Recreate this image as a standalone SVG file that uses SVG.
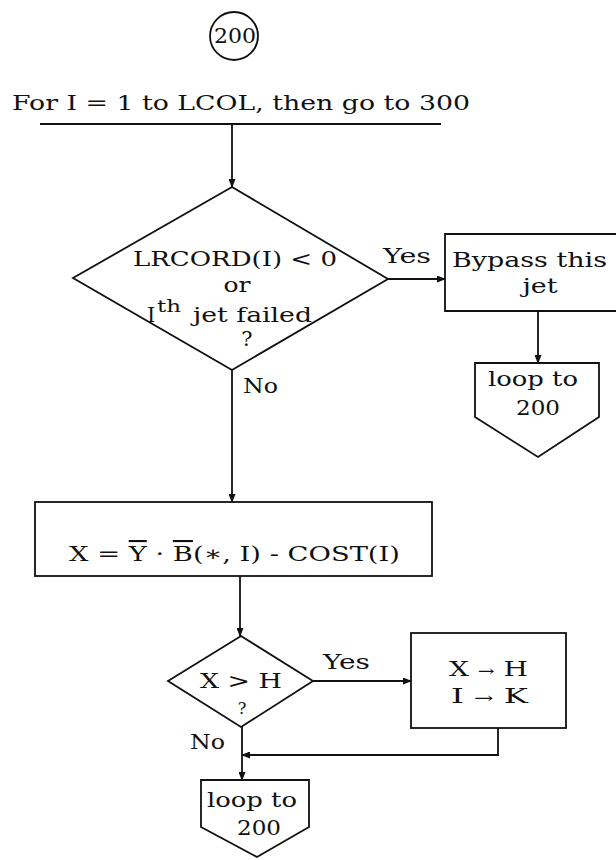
<svg xmlns="http://www.w3.org/2000/svg" width="616" height="860" viewBox="0 0 616 860">
<style>
  .s { fill: none; stroke: #111; stroke-width: 1.8; stroke-linejoin: miter; }
  .t { font-family: "DejaVu Serif", "Liberation Serif", serif; font-size: 21px; fill: #111; }
  .c { text-anchor: middle; }
  .sm { font-size: 16px; }
</style>
<defs>
  <marker id="arr" markerUnits="userSpaceOnUse" markerWidth="9" markerHeight="7" refX="8" refY="3.5" orient="auto">
    <path d="M0,0 L9,3.5 L0,7 z" fill="#111"/>
  </marker>
</defs>
<rect width="616" height="860" fill="#fff"/>

<g id="connector-label-200">
  <circle class="s" cx="234" cy="36" r="24"/>
  <text class="t c" x="235" y="43" textLength="42" lengthAdjust="spacingAndGlyphs">200</text>
</g>

<g id="loop-header">
  <text class="t" x="12" y="110" textLength="458" lengthAdjust="spacingAndGlyphs">For I = 1 to LCOL,  then go to 300</text>
  <line class="s" x1="40" y1="124" x2="441" y2="124"/>
</g>

<g id="decision-1">
  <polygon class="s" points="232,187 388,279 232,370 73,278"/>
  <text class="t" x="133" y="266" textLength="204" lengthAdjust="spacingAndGlyphs">LRCORD(I) &lt; 0</text>
  <text class="t c" x="237" y="292" textLength="27" lengthAdjust="spacingAndGlyphs">or</text>
  <text class="t"><tspan x="147" y="322">I</tspan><tspan x="157" y="312" font-size="16" textLength="24" lengthAdjust="spacingAndGlyphs">th</tspan><tspan x="193" y="322" textLength="119" lengthAdjust="spacingAndGlyphs">jet failed</tspan></text>
  <text class="t c" x="247" y="346">?</text>
</g>

<g id="bypass">
  <path class="s" d="M620,234 H445 V311 H620"/>
  <text class="t" x="452" y="267" textLength="155" lengthAdjust="spacingAndGlyphs">Bypass this</text>
  <text class="t c" x="540" y="293" textLength="35" lengthAdjust="spacingAndGlyphs">jet</text>
</g>

<g id="loop-1">
  <polygon class="s" points="475,363 599,363 599,417 538,457 475,417"/>
  <text class="t c" x="533" y="386" textLength="90" lengthAdjust="spacingAndGlyphs">loop to</text>
  <text class="t c" x="538" y="415" textLength="44" lengthAdjust="spacingAndGlyphs">200</text>
</g>

<g id="compute-x">
  <rect class="s" x="35" y="502" width="397" height="74"/>
  <text class="t" x="69" y="561" font-size="22" textLength="331" lengthAdjust="spacingAndGlyphs">X = <tspan text-decoration="overline">Y</tspan> ·  <tspan text-decoration="overline">B</tspan>(∗, I) - COST(I)</text>
</g>

<g id="decision-2">
  <polygon class="s" points="241,636 313,681 241,727 168,681"/>
  <text class="t c" x="241" y="688" textLength="82" lengthAdjust="spacingAndGlyphs">X &gt; H</text>
  <text class="t c sm" x="242" y="714">?</text>
</g>

<g id="assign">
  <rect class="s" x="411" y="633" width="155" height="95"/>
  <text class="t" x="449" y="676" textLength="79" lengthAdjust="spacingAndGlyphs">X <tspan font-size="15">→</tspan> H</text>
  <text class="t" x="451" y="703" textLength="77" lengthAdjust="spacingAndGlyphs">I <tspan font-size="15">→</tspan> K</text>
</g>

<g id="loop-2">
  <polygon class="s" points="201,780 309,780 309,827 257,857 201,827"/>
  <text class="t c" x="252" y="807" textLength="90" lengthAdjust="spacingAndGlyphs">loop to</text>
  <text class="t c" x="259" y="835" textLength="44" lengthAdjust="spacingAndGlyphs">200</text>
</g>

<g id="connectors">
  <line class="s" x1="232" y1="124" x2="232" y2="187" marker-end="url(#arr)"/>
  <line class="s" x1="388" y1="279" x2="445" y2="279" marker-end="url(#arr)"/>
  <line class="s" x1="538" y1="311" x2="538" y2="363" marker-end="url(#arr)"/>
  <line class="s" x1="232" y1="370" x2="232" y2="502" marker-end="url(#arr)"/>
  <line class="s" x1="240" y1="576" x2="240" y2="636" marker-end="url(#arr)"/>
  <line class="s" x1="313" y1="681" x2="411" y2="681" marker-end="url(#arr)"/>
  <polyline class="s" points="498,728 498,755 242,755" marker-end="url(#arr)"/>
  <line class="s" x1="242" y1="727" x2="242" y2="780" marker-end="url(#arr)"/>
  <text class="t" x="383" y="263" textLength="48" lengthAdjust="spacingAndGlyphs">Yes</text>
  <text class="t" x="243" y="393" textLength="35" lengthAdjust="spacingAndGlyphs">No</text>
  <text class="t" x="323" y="669" textLength="47" lengthAdjust="spacingAndGlyphs">Yes</text>
  <text class="t" x="190" y="749" textLength="35" lengthAdjust="spacingAndGlyphs">No</text>
</g>
</svg>
